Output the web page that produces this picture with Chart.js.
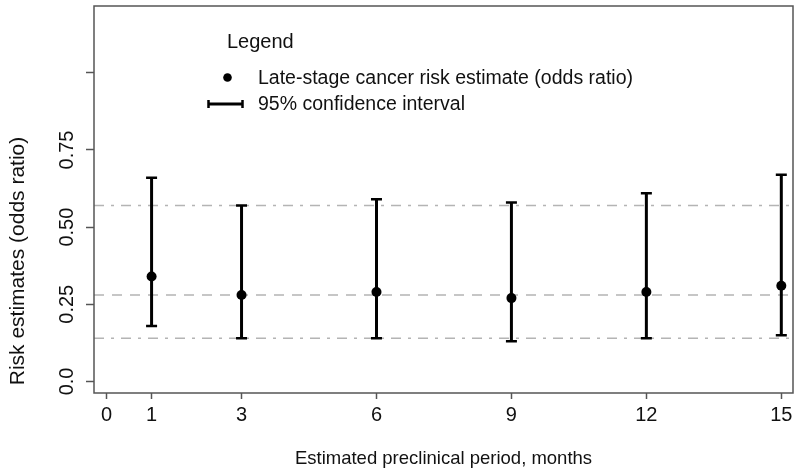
<!DOCTYPE html>
<html>
<head>
<meta charset="utf-8">
<script src="https://cdn.jsdelivr.net/npm/chart.js@4.4.1/dist/chart.umd.min.js"></script>
<style>
    body { margin: 0; background: #fff; }
    canvas { display: block; }
</style>
</head>
<body>
<canvas id="riskChart" width="800" height="474"></canvas>
<script>
// values
const months = [1, 3, 6, 9, 12, 15];
const oddsRatio = [0.34, 0.28, 0.29, 0.27, 0.29, 0.31];
const ciLower = [0.18, 0.14, 0.14, 0.13, 0.14, 0.15];
const ciUpper = [0.66, 0.57, 0.59, 0.58, 0.61, 0.67];

// pooled estimate (middle) and its confidence bounds
const refLines = [0.57, 0.28, 0.14];

const xTickValues = [0, 1, 3, 6, 9, 12, 15];
const yTickValues = [0, 0.25, 0.5, 0.75, 1];
const yTickLabels = ['0.0', '0.25', '0.50', '0.75', ''];

const xTitle = 'Estimated preclinical period, months';
const yTitle = 'Risk estimates (odds ratio)';
const legendTitle = 'Legend';
const legendLabels = ['Late-stage cancer risk estimate (odds ratio)', '95% confidence interval'];

const FONT = '"Liberation Sans", Arial, sans-serif';
const AXIS_COLOR = '#555';

const errorBarPlugin = {
    id: 'errorBars',
    beforeDatasetsDraw(chart) {
        const { ctx, chartArea, scales: { x, y } } = chart;
        ctx.save();
        // horizontal reference lines
        ctx.strokeStyle = '#b4b4b4';
        ctx.lineWidth = 1.5;
        refLines.forEach((v, i) => {
            ctx.setLineDash(i === 1 ? [10, 8] : [10, 7, 3, 7]);
            const py = y.getPixelForValue(v);
            ctx.beginPath();
            ctx.moveTo(chartArea.left, py);
            ctx.lineTo(chartArea.right, py);
            ctx.stroke();
        });
        ctx.setLineDash([]);
        // confidence intervals
        ctx.strokeStyle = '#000';
        months.forEach((m, i) => {
            const px = x.getPixelForValue(m);
            const top = y.getPixelForValue(ciUpper[i]);
            const bot = y.getPixelForValue(ciLower[i]);
            ctx.lineWidth = 3;
            ctx.beginPath();
            ctx.moveTo(px, top);
            ctx.lineTo(px, bot);
            ctx.stroke();
            ctx.lineWidth = 2.5;
            ctx.beginPath();
            ctx.moveTo(px - 5.5, top);
            ctx.lineTo(px + 5.5, top);
            ctx.moveTo(px - 5.5, bot);
            ctx.lineTo(px + 5.5, bot);
            ctx.stroke();
        });
        ctx.restore();
    },
    afterDraw(chart) {
        const { ctx, chartArea } = chart;
        ctx.save();
        // plot frame
        ctx.strokeStyle = AXIS_COLOR;
        ctx.lineWidth = 1.5;
        ctx.strokeRect(chartArea.left, chartArea.top, chartArea.right - chartArea.left, chartArea.bottom - chartArea.top);

        ctx.fillStyle = '#111';
        ctx.textBaseline = 'alphabetic';

        // axis titles
        ctx.font = '18.5px ' + FONT;
        ctx.textAlign = 'center';
        ctx.fillText(xTitle, (chartArea.left + chartArea.right) / 2, 463.5);

        ctx.save();
        ctx.translate(23.5, 261);
        ctx.rotate(-Math.PI / 2);
        ctx.font = '21px ' + FONT;
        ctx.fillText(yTitle, 0, 0);
        ctx.restore();

        // legend
        ctx.textAlign = 'left';
        ctx.font = '20px ' + FONT;
        ctx.fillText(legendTitle, 227, 48);

        ctx.font = '19.5px ' + FONT;
        ctx.fillText(legendLabels[0], 258, 83.5);
        ctx.fillText(legendLabels[1], 258, 110);

        ctx.fillStyle = '#000';
        ctx.beginPath();
        ctx.arc(227.5, 77.5, 4.3, 0, Math.PI * 2);
        ctx.fill();

        ctx.strokeStyle = '#000';
        ctx.lineWidth = 3;
        ctx.beginPath();
        ctx.moveTo(208, 104);
        ctx.lineTo(243, 104);
        ctx.stroke();
        ctx.lineWidth = 2.5;
        ctx.beginPath();
        ctx.moveTo(208.5, 100);
        ctx.lineTo(208.5, 108);
        ctx.moveTo(242.5, 100);
        ctx.lineTo(242.5, 108);
        ctx.stroke();
        ctx.restore();
    }
};

var ctx = document.getElementById('riskChart').getContext('2d');

var riskChart = new Chart(ctx, {
    type: 'scatter',
    data: {
        datasets: [{
            label: legendLabels[0],
            data: months.map((m, i) => ({ x: m, y: oddsRatio[i] })),
            backgroundColor: '#000',
            borderWidth: 0,
            pointRadius: 5,
            showLine: false
        }]
    },
    options: {
        responsive: false,
        animation: false,
        layout: { padding: { top: 6, right: 7, left: 0, bottom: 0 } },
        plugins: {
            legend: { display: false },
            tooltip: { enabled: false }
        },
        scales: {
            x: {
                type: 'linear',
                min: -0.28,
                max: 15.26,
                afterBuildTicks: (scale) => {
                    scale.ticks = xTickValues.map(v => ({ value: v }));
                },
                afterFit: (scale) => {
                    scale.height = 81;
                    scale.paddingLeft = 0;
                    scale.paddingRight = 0;
                },
                border: { display: false },
                grid: {
                    drawOnChartArea: false,
                    drawTicks: true,
                    tickLength: 6,
                    tickWidth: 1.5,
                    tickColor: AXIS_COLOR
                },
                ticks: {
                    color: '#111',
                    padding: 4,
                    maxRotation: 0,
                    autoSkip: false,
                    font: { family: FONT, size: 20 },
                    callback: (v) => String(v)
                }
            },
            y: {
                type: 'linear',
                min: -0.0375,
                max: 1.2165,
                afterBuildTicks: (scale) => {
                    scale.ticks = yTickValues.map(v => ({ value: v }));
                },
                afterFit: (scale) => {
                    scale.width = 94;
                    scale.paddingTop = 0;
                    scale.paddingBottom = 0;
                },
                border: { display: false },
                grid: {
                    drawOnChartArea: false,
                    drawTicks: true,
                    tickLength: 8,
                    tickWidth: 1.5,
                    tickColor: AXIS_COLOR
                },
                ticks: {
                    color: '#111',
                    padding: -1,
                    minRotation: 90,
                    maxRotation: 90,
                    crossAlign: 'center',
                    autoSkip: false,
                    font: { family: FONT, size: 20 },
                    callback: (v) => yTickLabels[yTickValues.indexOf(v)]
                }
            }
        }
    },
    plugins: [errorBarPlugin]
});
</script>
</body>
</html>
